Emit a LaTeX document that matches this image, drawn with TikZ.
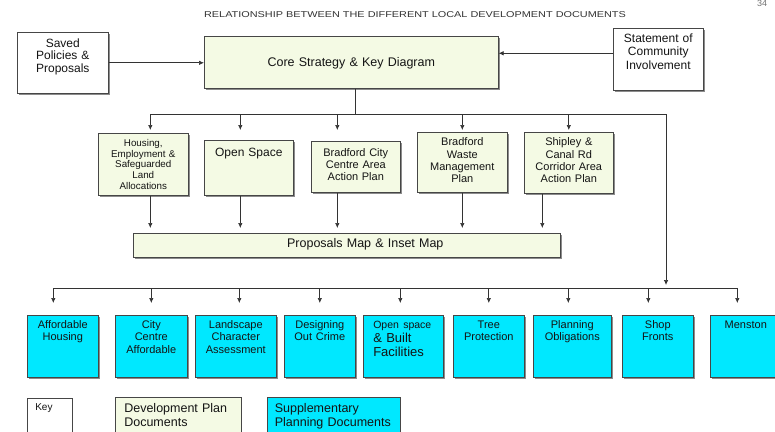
\documentclass[tikz,border=0pt]{standalone}
\usepackage{fontspec}
\setmainfont{Liberation Sans}
\usetikzlibrary{arrows.meta,shadows}
\definecolor{dev-fill}{RGB}{244,250,228}
\definecolor{spd-cyan}{RGB}{0,232,255}
\definecolor{box-line}{RGB}{70,70,70}
\newcommand{\fs}[2]{\fontsize{#1}{#2}\selectfont}
\tikzset{
	box/.style={draw=box-line, line width=0.6pt, anchor=north west, inner xsep=0pt, inner ysep=0pt, align=center, text=black!92},
	shd/.style={drop shadow={shadow xshift=1.8pt, shadow yshift=-1.8pt, fill=black!45, opacity=1}},
	dev/.style={box, shd, fill=dev-fill},
	spd/.style={box, shd, fill=spd-cyan, font=\fs{11}{12.5}},
	wbox/.style={box, shd, fill=white},
	sz/.style n args={3}{text width=#1pt, text height=#2pt, text depth=#3pt},
	line/.style={draw=black!80, line width=0.7pt},
	arr/.style={line, -{Latex[length=5pt,width=4.5pt]}}
}
\begin{document}
\begin{tikzpicture}[x=1pt,y=-1pt]
\useasboundingbox (0 ,0) rectangle (775,431);

% title and page number
\node [text=black!80] (title) at (415,15) {\scalebox{1.28}[1]{\fs{8.5}{10}RELATIONSHIP BETWEEN THE DIFFERENT LOCAL DEVELOPMENT DOCUMENTS}};
\node [text=black!55, font=\fs{9}{10}] (page) at (762,3) {34};

% top row
\node [wbox, sz={91}{15}{46}, font=\fs{12}{12.5}] (sav) at (17,32) {Saved\\Policies \&\\Proposals};
\node [dev, sz={294}{30}{22}, font=\fs{12.5}{14}] (core) at (204,36) {Core Strategy \& Key Diagram};
\node [wbox, sz={90}{14}{48}, font=\fs{12}{13.5}] (sci) at (613,28) {Statement of\\Community\\Involvement};
\coordinate (sciin) at ([yshift=6pt]sci.west);
\draw [arr] (sav.east) -- (core.west |- sav.east);
\draw [arr] (sciin) -- (sciin -| core.east);

% development plan documents
\node [dev, sz={90}{13}{49}, font=\fs{9.8}{10.7}] (hou) at (98,133) {Housing,\\Employment \&\\Safeguarded\\Land\\Allocations};
\node [dev, sz={89}{16}{39}, font=\fs{12}{13}] (osp) at (204,140) {Open Space};
\node [dev, sz={89}{15}{36}, font=\fs{11}{12}] (bcc) at (311,141) {Bradford City\\Centre Area\\Action Plan};
\node [dev, sz={90}{13.5}{46.5}, font=\fs{11}{12.2}] (bwm) at (417,132) {Bradford\\Waste\\Management\\Plan};
\node [dev, sz={89}{13.5}{47.5}, font=\fs{11}{12.2}] (scr) at (524,132) {Shipley \&\\Canal Rd\\Corridor Area\\Action Plan};
\node [dev, sz={427}{14}{10}, font=\fs{12.5}{14}] (pmap) at (133,233) {\hspace*{37pt}Proposals Map \& Inset Map};

\coordinate (tbus) at (0,114);
\coordinate (turn) at (666,114);
\coordinate (bus) at (0,288);
\draw [line] ([xshift=4pt]core.south) -- ([xshift=4pt]core.south |- tbus);
\draw [line] ([xshift=7pt]hou.north |- tbus) -- (turn);
\draw [arr, shorten >=3pt] (turn) -- (turn |- bus);
\foreach \n/\dx in {hou/7,osp/-8.5,bcc/-18.5,bwm/0,scr/0}{
	\draw [arr] ([xshift=\dx pt]\n.north |- tbus) -- ([xshift=\dx pt]\n.north |- 0,130);
}
\foreach \n/\dx in {hou/7,osp/-8.5,bcc/-18.5,bwm/0,scr/-26.5}{
	\draw [arr, shorten >=5pt] ([xshift=\dx pt]\n.south) -- ([xshift=\dx pt]\n.south |- pmap.north);
}

% supplementary planning documents
\node [spd, sz={60}{13}{49}, inner xsep=10pt, align=left, font=\fs{13}{14}] (osb) at (363,315) {{\fs{10.5}{14}Open space}\\\& Built\\Facilities};
\foreach \n/\x/\w/\dx/\txt in {aff/27/71/-9.5/{Affordable\\Housing},
	cca/115/72/0/{City\\Centre\\Affordable},
	lca/195/81/3.5/{Landscape\\Character\\Assessment},
	doc/284/71/0/{Designing\\Out Crime},
	tpr/453/71/0/{Tree\\Protection},
	pob/533/78/-4/{Planning\\Obligations},
	sfr/622/71/-9.5/{Shop\\Fronts},
	men/710/71/-8.5/{Menston}}{
	\node [spd, sz={\w}{13}{49}] (\n) at (\x,315) {\txt};
	\draw [arr, shorten >=12pt] ([xshift=\dx pt]\n.north |- bus) -- ([xshift=\dx pt]\n.north);
}
\draw [arr, shorten >=12pt] ([xshift=-3pt]osb.north |- bus) -- ([xshift=-3pt]osb.north);
\draw [line] ([xshift=-9.5pt]aff.north |- bus) -- ([xshift=-8.5pt]men.north |- bus);

% key
\node [box, fill=white, sz={29}{12}{28}, inner xsep=8pt, align=left, font=\fs{10}{11}] (key) at (27,398) {Key};
\node [box, fill=dev-fill, sz={108}{15}{25}, inner xsep=9pt, align=left, font=\fs{12.5}{14}] (ldev) at (115,397) {Development Plan\\Documents};
\node [box, fill=spd-cyan, sz={118}{15}{25}, inner xsep=7.5pt, align=left, font=\fs{12.5}{14}] (lspd) at (267,397) {Supplementary\\Planning Documents};
\end{tikzpicture}
\end{document}
